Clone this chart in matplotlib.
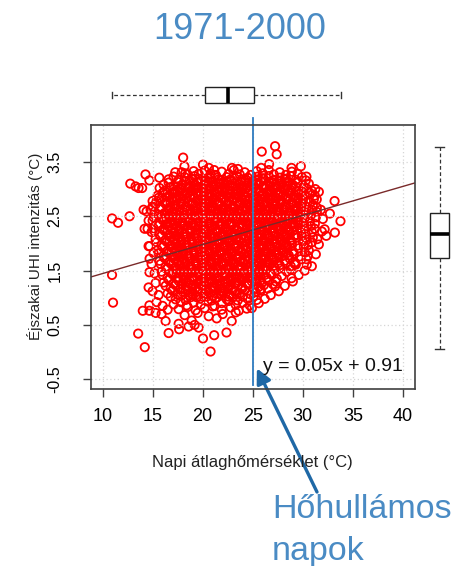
import matplotlib
matplotlib.use("Agg")
import matplotlib.pyplot as plt
import numpy as np

plt.rcParams["font.family"] = ["Liberation Sans", "DejaVu Sans"]

# daily mean temperature (degC) vs nighttime UHI intensity (degC)
days = [
    # scattered outliers
    (10.95, 2.46), (11.55, 2.38), (10.95, 1.42), (11.05, 0.91), (12.7, 2.50), (12.77, 3.10),
    (13.3, 3.05), (13.6, 3.02), (13.96, 3.02), (14.29, 3.27), (14.68, 3.16), (15.67, 3.21),
    (13.56, 0.34), (14.22, 0.09), (14.02, 0.76), (14.68, 0.76), (16.6, 0.35), (17.65, 0.42),
    (20.03, 0.25), (20.79, 0.01), (21.15, 0.31), (22.38, 0.36), (24.91, 0.81), (18.05, 3.58),
    (18.18, 3.42), (18.25, 3.29), (17.26, 3.31), (20.03, 3.45), (20.62, 3.39), (21.15, 3.35),
    (22.93, 3.39), (23.52, 3.37), (25.9, 3.69), (27.23, 3.79), (27.39, 3.64), (25.84, 3.39),
    (26.63, 3.46), (28.87, 3.39), (29.8, 3.42), (30.36, 3.23), (31.25, 3.0), (31.39, 2.81),
    (33.17, 2.78), (32.7, 2.55), (33.76, 2.41), (33.2, 2.20), (32.34, 2.14), (32.18, 2.26),
    (31.45, 2.08), (30.36, 1.71), (30.4, 1.61), (29.2, 1.62), (28.87, 1.36), (27.23, 1.21),
    (25.8, 1.16), (25.7, 1.30), (14.68, 1.47), (14.6, 1.19), (14.68, 0.86), (15.3, 0.72),
    (15.9, 0.70), (14.1, 2.62), (14.4, 2.59), (14.2, 2.27), (14.5, 2.27), (14.6, 1.95),
    (14.7, 1.72), (15.0, 2.68), (15.6, 2.84), (16.5, 2.93), (18.6, 0.47), (19.2, 0.50),
    (19.6, 0.45), (16.3, 0.57), (17.6, 0.52),
    (14.8, 2.62), (15.0, 2.78), (14.6, 2.42), (14.9, 2.21), (14.7, 1.95), (15.1, 1.82),
    (14.9, 1.62), (15.2, 1.45), (15.3, 1.27), (15.0, 1.12), (15.6, 1.05), (15.4, 0.92),
    (16.0, 0.85), (16.5, 0.78), (31.6, 2.95), (31.8, 2.62), (32.0, 2.45), (31.9, 2.22),
    (31.6, 1.98), (31.3, 1.80), (30.9, 1.58), (30.2, 1.50), (29.6, 1.42), (29.0, 1.30),
    (28.2, 1.22), (27.6, 1.12), (26.8, 1.05), (26.2, 0.98), (25.6, 0.90),
    # main cloud
    (17.9, 3.31), (18.5, 3.27), (19.1, 3.33), (19.6, 3.28), (20.2, 3.34), (20.8, 3.29), (21.3, 3.26),
    (21.9, 3.32), (22.6, 3.28), (23.1, 3.35), (23.7, 3.27), (24.2, 3.31), (24.8, 3.26), (25.4, 3.33),
    (26.0, 3.29), (26.6, 3.35), (27.1, 3.27), (27.7, 3.31), (28.3, 3.26), (28.9, 3.32), (29.5, 3.28),
    (16.6, 3.18), (17.1, 3.23), (17.6, 3.17), (18.2, 3.22), (18.7, 3.16), (19.2, 3.24), (19.7, 3.19),
    (20.3, 3.15), (20.8, 3.21), (21.3, 3.25), (21.8, 3.17), (22.4, 3.22), (22.9, 3.16), (23.4, 3.24),
    (23.9, 3.18), (24.5, 3.21), (25.0, 3.15), (25.5, 3.23), (26.1, 3.19), (26.6, 3.24), (27.1, 3.16),
    (27.7, 3.21), (28.2, 3.18), (28.8, 3.24), (29.3, 3.17), (29.9, 3.22), (30.3, 3.16),
    (16.1, 3.08), (16.6, 3.12), (17.1, 3.06), (17.5, 3.13), (18.0, 3.09), (18.6, 3.05), (19.1, 3.11),
    (19.6, 3.14), (20.1, 3.07), (20.6, 3.12), (21.1, 3.05), (21.6, 3.10), (22.1, 3.14), (22.7, 3.06),
    (23.2, 3.11), (23.7, 3.08), (24.2, 3.13), (24.8, 3.05), (25.3, 3.10), (25.8, 3.14), (26.3, 3.07),
    (26.9, 3.12), (27.4, 3.06), (27.9, 3.11), (28.5, 3.14), (29.0, 3.08), (29.5, 3.12), (30.1, 3.05),
    (30.6, 3.10),
    (15.7, 3.02), (16.2, 2.97), (16.7, 3.03), (17.2, 2.96), (17.7, 3.01), (18.3, 3.04), (18.8, 2.97),
    (19.3, 3.02), (19.8, 2.95), (20.4, 3.00), (20.9, 3.04), (21.4, 2.96), (21.9, 3.01), (22.5, 2.98),
    (23.0, 3.04), (23.5, 2.96), (24.0, 3.02), (24.6, 2.99), (25.1, 3.04), (25.6, 2.95), (26.1, 3.01),
    (26.7, 2.97), (27.2, 3.03), (27.7, 2.96), (28.3, 3.01), (28.8, 2.98), (29.3, 3.04), (29.9, 2.96),
    (30.4, 3.01), (30.9, 2.97),
    (15.5, 2.88), (16.0, 2.93), (16.5, 2.86), (17.0, 2.91), (17.5, 2.95), (18.0, 2.87), (18.5, 2.92),
    (19.1, 2.85), (19.6, 2.90), (20.1, 2.94), (20.6, 2.86), (21.2, 2.91), (21.7, 2.88), (22.2, 2.94),
    (22.7, 2.85), (23.3, 2.90), (23.8, 2.93), (24.3, 2.87), (24.9, 2.92), (25.4, 2.85), (25.9, 2.90),
    (26.4, 2.94), (27.0, 2.86), (27.5, 2.91), (28.0, 2.88), (28.6, 2.93), (29.1, 2.86), (29.6, 2.91),
    (30.2, 2.87), (30.7, 2.93), (31.2, 2.88),
    (15.4, 2.78), (15.9, 2.83), (16.4, 2.76), (16.9, 2.81), (17.4, 2.84), (17.9, 2.77), (18.4, 2.82),
    (19.0, 2.75), (19.5, 2.80), (20.0, 2.84), (20.5, 2.77), (21.0, 2.81), (21.6, 2.76), (22.1, 2.83),
    (22.6, 2.78), (23.1, 2.84), (23.7, 2.75), (24.2, 2.80), (24.7, 2.83), (25.2, 2.77), (25.8, 2.82),
    (26.3, 2.76), (26.8, 2.81), (27.3, 2.84), (27.9, 2.78), (28.4, 2.82), (28.9, 2.75), (29.5, 2.80),
    (30.0, 2.84), (30.5, 2.77), (31.1, 2.81),
    (15.3, 2.72), (15.8, 2.67), (16.3, 2.73), (16.8, 2.66), (17.3, 2.71), (17.8, 2.74), (18.3, 2.68),
    (18.9, 2.72), (19.4, 2.65), (19.9, 2.70), (20.4, 2.74), (20.9, 2.67), (21.5, 2.71), (22.0, 2.65),
    (22.5, 2.72), (23.0, 2.68), (23.6, 2.74), (24.1, 2.66), (24.6, 2.70), (25.1, 2.73), (25.7, 2.67),
    (26.2, 2.72), (26.7, 2.65), (27.2, 2.70), (27.8, 2.74), (28.3, 2.68), (28.8, 2.71), (29.4, 2.66),
    (29.9, 2.73), (30.4, 2.67), (31.0, 2.71), (31.4, 2.66),
    (15.2, 2.58), (15.7, 2.63), (16.2, 2.56), (16.7, 2.61), (17.2, 2.64), (17.7, 2.57), (18.2, 2.62),
    (18.8, 2.55), (19.3, 2.60), (19.8, 2.64), (20.3, 2.57), (20.8, 2.61), (21.4, 2.56), (21.9, 2.63),
    (22.4, 2.58), (22.9, 2.64), (23.5, 2.56), (24.0, 2.60), (24.5, 2.63), (25.0, 2.57), (25.6, 2.62),
    (26.1, 2.55), (26.6, 2.60), (27.1, 2.64), (27.7, 2.58), (28.2, 2.62), (28.7, 2.55), (29.3, 2.61),
    (29.8, 2.64), (30.3, 2.57), (30.9, 2.62), (31.4, 2.58),
    (15.1, 2.48), (15.6, 2.53), (16.1, 2.46), (16.6, 2.51), (17.1, 2.54), (17.6, 2.47), (18.1, 2.52),
    (18.7, 2.45), (19.2, 2.50), (19.7, 2.54), (20.2, 2.47), (20.7, 2.51), (21.3, 2.46), (21.8, 2.53),
    (22.3, 2.48), (22.8, 2.54), (23.4, 2.46), (23.9, 2.50), (24.4, 2.53), (24.9, 2.47), (25.5, 2.52),
    (26.0, 2.45), (26.5, 2.50), (27.0, 2.54), (27.6, 2.48), (28.1, 2.52), (28.6, 2.45), (29.2, 2.51),
    (29.7, 2.54), (30.2, 2.47), (30.8, 2.52), (31.3, 2.48),
    (15.0, 2.42), (15.5, 2.37), (16.0, 2.43), (16.5, 2.36), (17.0, 2.41), (17.5, 2.44), (18.0, 2.38),
    (18.6, 2.42), (19.1, 2.35), (19.6, 2.40), (20.1, 2.44), (20.6, 2.37), (21.2, 2.41), (21.7, 2.35),
    (22.2, 2.42), (22.7, 2.38), (23.3, 2.44), (23.8, 2.36), (24.3, 2.40), (24.8, 2.43), (25.4, 2.37),
    (25.9, 2.42), (26.4, 2.35), (26.9, 2.40), (27.5, 2.44), (28.0, 2.38), (28.5, 2.41), (29.1, 2.36),
    (29.6, 2.43), (30.1, 2.37), (30.7, 2.41), (31.2, 2.36),
    (15.1, 2.28), (15.6, 2.33), (16.1, 2.26), (16.6, 2.31), (17.1, 2.34), (17.6, 2.27), (18.1, 2.32),
    (18.7, 2.25), (19.2, 2.30), (19.7, 2.34), (20.2, 2.27), (20.7, 2.31), (21.3, 2.26), (21.8, 2.33),
    (22.3, 2.28), (22.8, 2.34), (23.4, 2.26), (23.9, 2.30), (24.4, 2.33), (24.9, 2.27), (25.5, 2.32),
    (26.0, 2.25), (26.5, 2.30), (27.0, 2.34), (27.6, 2.28), (28.1, 2.32), (28.6, 2.25), (29.2, 2.31),
    (29.7, 2.34), (30.2, 2.27), (30.8, 2.32), (31.2, 2.27),
    (15.2, 2.22), (15.7, 2.17), (16.2, 2.23), (16.7, 2.16), (17.2, 2.21), (17.7, 2.24), (18.2, 2.18),
    (18.8, 2.22), (19.3, 2.15), (19.8, 2.20), (20.3, 2.24), (20.8, 2.17), (21.4, 2.21), (21.9, 2.15),
    (22.4, 2.22), (22.9, 2.18), (23.5, 2.24), (24.0, 2.16), (24.5, 2.20), (25.0, 2.23), (25.6, 2.17),
    (26.1, 2.22), (26.6, 2.15), (27.1, 2.20), (27.7, 2.24), (28.2, 2.18), (28.7, 2.21), (29.3, 2.16),
    (29.8, 2.23), (30.3, 2.17), (30.9, 2.21),
    (15.3, 2.08), (15.8, 2.13), (16.3, 2.06), (16.8, 2.11), (17.3, 2.14), (17.8, 2.07), (18.3, 2.12),
    (18.9, 2.05), (19.4, 2.10), (19.9, 2.14), (20.4, 2.07), (20.9, 2.11), (21.5, 2.06), (22.0, 2.13),
    (22.5, 2.08), (23.0, 2.14), (23.6, 2.06), (24.1, 2.10), (24.6, 2.13), (25.1, 2.07), (25.7, 2.12),
    (26.2, 2.05), (26.7, 2.10), (27.2, 2.14), (27.8, 2.08), (28.3, 2.12), (28.8, 2.05), (29.4, 2.11),
    (29.9, 2.14), (30.4, 2.07), (31.0, 2.11),
    (15.4, 2.02), (15.9, 1.97), (16.4, 2.03), (16.9, 1.96), (17.4, 2.01), (17.9, 2.04), (18.4, 1.98),
    (19.0, 2.02), (19.5, 1.95), (20.0, 2.00), (20.5, 2.04), (21.0, 1.97), (21.6, 2.01), (22.1, 1.95),
    (22.6, 2.02), (23.1, 1.98), (23.7, 2.04), (24.2, 1.96), (24.7, 2.00), (25.2, 2.03), (25.8, 1.97),
    (26.3, 2.02), (26.8, 1.95), (27.3, 2.00), (27.9, 2.04), (28.4, 1.98), (28.9, 2.01), (29.5, 1.96),
    (30.0, 2.03), (30.5, 1.97), (30.9, 2.02),
    (15.5, 1.88), (16.0, 1.93), (16.5, 1.86), (17.0, 1.91), (17.5, 1.94), (18.0, 1.87), (18.5, 1.92),
    (19.1, 1.85), (19.6, 1.90), (20.1, 1.94), (20.6, 1.87), (21.1, 1.91), (21.7, 1.86), (22.2, 1.93),
    (22.7, 1.88), (23.2, 1.94), (23.8, 1.86), (24.3, 1.90), (24.8, 1.93), (25.3, 1.87), (25.9, 1.92),
    (26.4, 1.85), (26.9, 1.90), (27.4, 1.94), (28.0, 1.88), (28.5, 1.92), (29.0, 1.85), (29.6, 1.91),
    (30.1, 1.94), (30.6, 1.87),
    (15.6, 1.82), (16.1, 1.77), (16.6, 1.83), (17.1, 1.76), (17.6, 1.81), (18.1, 1.84), (18.6, 1.78),
    (19.2, 1.82), (19.7, 1.75), (20.2, 1.80), (20.7, 1.84), (21.2, 1.77), (21.8, 1.81), (22.3, 1.75),
    (22.8, 1.82), (23.3, 1.78), (23.9, 1.84), (24.4, 1.76), (24.9, 1.80), (25.4, 1.83), (26.0, 1.77),
    (26.5, 1.82), (27.0, 1.75), (27.5, 1.80), (28.1, 1.84), (28.6, 1.78), (29.1, 1.81), (29.7, 1.76),
    (30.2, 1.83), (30.5, 1.77),
    (15.7, 1.68), (16.2, 1.73), (16.7, 1.66), (17.2, 1.71), (17.7, 1.74), (18.2, 1.67), (18.7, 1.72),
    (19.3, 1.65), (19.8, 1.70), (20.3, 1.74), (20.8, 1.67), (21.3, 1.71), (21.9, 1.66), (22.4, 1.73),
    (22.9, 1.68), (23.4, 1.74), (24.0, 1.66), (24.5, 1.70), (25.0, 1.73), (25.5, 1.67), (26.1, 1.72),
    (26.6, 1.65), (27.1, 1.70), (27.6, 1.74), (28.2, 1.68), (28.7, 1.72), (29.2, 1.65), (29.8, 1.71),
    (15.8, 1.62), (16.3, 1.57), (16.8, 1.63), (17.3, 1.56), (17.8, 1.61), (18.3, 1.64), (18.8, 1.58),
    (19.4, 1.62), (19.9, 1.55), (20.4, 1.60), (20.9, 1.64), (21.4, 1.57), (22.0, 1.61), (22.5, 1.55),
    (23.0, 1.62), (23.5, 1.58), (24.1, 1.64), (24.6, 1.56), (25.1, 1.60), (25.6, 1.63), (26.2, 1.57),
    (26.7, 1.62), (27.2, 1.55), (27.7, 1.60), (28.3, 1.64), (28.8, 1.58), (29.3, 1.61),
    (15.9, 1.48), (16.4, 1.53), (16.9, 1.46), (17.4, 1.51), (17.9, 1.54), (18.4, 1.47), (18.9, 1.52),
    (19.5, 1.45), (20.0, 1.50), (20.5, 1.54), (21.0, 1.47), (21.5, 1.51), (22.1, 1.46), (22.6, 1.53),
    (23.1, 1.48), (23.6, 1.54), (24.2, 1.46), (24.7, 1.50), (25.2, 1.53), (25.7, 1.47), (26.3, 1.52),
    (26.8, 1.45), (27.3, 1.50), (27.8, 1.54), (28.4, 1.48), (28.8, 1.52),
    (16.0, 1.42), (16.5, 1.37), (17.0, 1.43), (17.5, 1.36), (18.0, 1.41), (18.5, 1.44), (19.0, 1.38),
    (19.6, 1.42), (20.1, 1.35), (20.6, 1.40), (21.1, 1.44), (21.6, 1.37), (22.2, 1.41), (22.7, 1.35),
    (23.2, 1.42), (23.7, 1.38), (24.3, 1.44), (24.8, 1.36), (25.3, 1.40), (25.8, 1.43), (26.4, 1.37),
    (26.9, 1.42), (27.4, 1.35), (27.9, 1.40),
    (16.1, 1.28), (16.6, 1.33), (17.1, 1.26), (17.6, 1.31), (18.1, 1.34), (18.6, 1.27), (19.1, 1.32),
    (19.7, 1.25), (20.2, 1.30), (20.7, 1.34), (21.2, 1.27), (21.7, 1.31), (22.3, 1.26), (22.8, 1.33),
    (23.3, 1.28), (23.8, 1.34), (24.4, 1.26), (24.9, 1.30), (25.4, 1.33), (25.9, 1.27), (26.5, 1.32),
    (27.0, 1.25), (27.3, 1.30),
    (16.3, 1.22), (16.8, 1.17), (17.3, 1.23), (17.8, 1.16), (18.3, 1.21), (18.8, 1.24), (19.3, 1.18),
    (19.9, 1.22), (20.4, 1.15), (20.9, 1.20), (21.4, 1.24), (21.9, 1.17), (22.5, 1.21), (23.0, 1.15),
    (23.5, 1.22), (24.0, 1.18), (24.6, 1.24), (25.1, 1.16), (25.6, 1.20), (26.1, 1.23), (26.5, 1.17),
    (16.5, 1.08), (17.0, 1.13), (17.5, 1.06), (18.0, 1.11), (18.5, 1.14), (19.0, 1.07), (19.5, 1.12),
    (20.1, 1.05), (20.6, 1.10), (21.1, 1.14), (21.6, 1.07), (22.1, 1.11), (22.7, 1.06), (23.2, 1.13),
    (23.7, 1.08), (24.2, 1.14), (24.8, 1.06), (25.3, 1.10), (25.8, 1.13),
    (16.8, 1.02), (17.3, 0.97), (17.8, 1.03), (18.3, 0.96), (18.8, 1.01), (19.3, 1.04), (19.8, 0.98),
    (20.4, 1.02), (20.9, 0.95), (21.4, 1.00), (21.9, 1.04), (22.4, 0.97), (23.0, 1.01), (23.5, 0.95),
    (24.0, 1.02), (24.5, 0.98), (25.1, 1.03), (25.4, 0.96),
    (17.1, 0.88), (17.8, 0.92), (18.4, 0.86), (19.1, 0.91), (19.8, 0.87), (20.5, 0.93), (21.2, 0.85),
    (21.9, 0.90), (22.6, 0.94), (23.3, 0.87), (24.0, 0.91), (24.7, 0.86),
    (17.6, 0.79), (18.5, 0.83), (19.3, 0.77), (20.2, 0.81), (21.0, 0.84), (21.9, 0.78), (22.8, 0.82),
    (23.6, 0.76), (24.4, 0.80), (18.2, 0.68), (19.5, 0.72), (20.6, 0.66), (22.0, 0.70), (23.3, 0.73),
    (18.9, 0.58), (21.4, 0.62), (22.9, 0.57),
    # denser middle of the cloud
    (18.3, 3.15), (18.9, 3.19), (19.4, 3.13), (19.9, 3.17), (20.5, 3.20), (21.0, 3.14), (21.6, 3.18),
    (22.1, 3.12), (22.7, 3.17), (23.2, 3.20), (23.8, 3.14), (24.3, 3.18), (24.9, 3.12), (25.5, 3.16),
    (26.0, 3.20), (26.6, 3.13), (27.1, 3.17), (27.7, 3.14), (28.3, 3.19),
    (17.5, 3.05), (18.0, 3.08), (18.6, 3.02), (19.1, 3.07), (19.6, 3.03), (20.2, 3.09), (20.7, 3.01),
    (21.3, 3.06), (21.8, 3.09), (22.3, 3.03), (22.9, 3.07), (23.4, 3.01), (24.0, 3.06), (24.5, 3.10),
    (25.1, 3.03), (25.6, 3.08), (26.2, 3.02), (26.7, 3.06), (27.3, 3.09), (27.8, 3.03), (28.4, 3.07),
    (28.9, 3.02),
    (17.2, 2.95), (17.8, 2.99), (18.3, 2.92), (18.9, 2.97), (19.4, 2.93), (20.0, 2.99), (20.5, 2.91),
    (21.1, 2.96), (21.6, 2.99), (22.1, 2.93), (22.7, 2.97), (23.2, 2.91), (23.8, 2.96), (24.3, 3.00),
    (24.9, 2.93), (25.4, 2.98), (26.0, 2.92), (26.5, 2.96), (27.1, 2.99), (27.6, 2.93), (28.2, 2.97),
    (28.7, 2.92), (29.3, 2.96),
    (17.0, 2.85), (17.6, 2.89), (18.1, 2.82), (18.7, 2.87), (19.2, 2.83), (19.8, 2.89), (20.3, 2.81),
    (20.9, 2.86), (21.4, 2.89), (21.9, 2.83), (22.5, 2.87), (23.0, 2.81), (23.6, 2.86), (24.1, 2.90),
    (24.7, 2.83), (25.2, 2.88), (25.8, 2.82), (26.3, 2.86), (26.9, 2.89), (27.4, 2.83), (28.0, 2.87),
    (28.5, 2.82), (29.1, 2.86), (29.6, 2.84),
    (16.8, 2.75), (17.4, 2.79), (17.9, 2.72), (18.5, 2.77), (19.0, 2.73), (19.6, 2.79), (20.1, 2.71),
    (20.7, 2.76), (21.2, 2.79), (21.7, 2.73), (22.3, 2.77), (22.8, 2.71), (23.4, 2.76), (23.9, 2.80),
    (24.5, 2.73), (25.0, 2.78), (25.6, 2.72), (26.1, 2.76), (26.7, 2.79), (27.2, 2.73), (27.8, 2.77),
    (28.3, 2.72), (28.9, 2.76), (29.4, 2.74), (30.0, 2.78),
    (16.6, 2.65), (17.2, 2.69), (17.7, 2.62), (18.3, 2.67), (18.8, 2.63), (19.4, 2.69), (19.9, 2.61),
    (20.5, 2.66), (21.0, 2.69), (21.5, 2.63), (22.1, 2.67), (22.6, 2.61), (23.2, 2.66), (23.7, 2.70),
    (24.3, 2.63), (24.8, 2.68), (25.4, 2.62), (25.9, 2.66), (26.5, 2.69), (27.0, 2.63), (27.6, 2.67),
    (28.1, 2.62), (28.7, 2.66), (29.2, 2.64), (29.8, 2.68),
    (16.5, 2.55), (17.0, 2.59), (17.6, 2.52), (18.1, 2.57), (18.7, 2.53), (19.2, 2.59), (19.8, 2.51),
    (20.3, 2.56), (20.9, 2.59), (21.4, 2.53), (22.0, 2.57), (22.5, 2.51), (23.1, 2.56), (23.6, 2.60),
    (24.2, 2.53), (24.7, 2.58), (25.3, 2.52), (25.8, 2.56), (26.4, 2.59), (26.9, 2.53), (27.5, 2.57),
    (28.0, 2.52), (28.6, 2.56), (29.1, 2.54), (29.7, 2.58),
    (16.4, 2.45), (16.9, 2.49), (17.5, 2.42), (18.0, 2.47), (18.6, 2.43), (19.1, 2.49), (19.7, 2.41),
    (20.2, 2.46), (20.8, 2.49), (21.3, 2.43), (21.9, 2.47), (22.4, 2.41), (23.0, 2.46), (23.5, 2.50),
    (24.1, 2.43), (24.6, 2.48), (25.2, 2.42), (25.7, 2.46), (26.3, 2.49), (26.8, 2.43), (27.4, 2.47),
    (27.9, 2.42), (28.5, 2.46), (29.0, 2.44), (29.6, 2.48),
    (16.3, 2.35), (16.8, 2.38), (17.4, 2.32), (17.9, 2.37), (18.5, 2.33), (19.0, 2.39), (19.6, 2.31),
    (20.1, 2.36), (20.7, 2.39), (21.2, 2.33), (21.8, 2.37), (22.3, 2.31), (22.9, 2.36), (23.4, 2.40),
    (24.0, 2.33), (24.5, 2.38), (25.1, 2.32), (25.6, 2.36), (26.2, 2.39), (26.7, 2.33), (27.3, 2.37),
    (27.8, 2.32), (28.4, 2.36), (28.9, 2.34), (29.5, 2.38),
    (16.5, 2.25), (17.0, 2.29), (17.6, 2.22), (18.1, 2.27), (18.7, 2.23), (19.2, 2.29), (19.8, 2.21),
    (20.3, 2.26), (20.9, 2.29), (21.4, 2.23), (22.0, 2.27), (22.5, 2.21), (23.1, 2.26), (23.6, 2.30),
    (24.2, 2.23), (24.7, 2.28), (25.3, 2.22), (25.8, 2.26), (26.4, 2.29), (26.9, 2.23), (27.5, 2.27),
    (28.0, 2.22), (28.6, 2.26), (29.1, 2.24), (29.7, 2.28),
    (16.6, 2.15), (17.1, 2.19), (17.7, 2.12), (18.2, 2.17), (18.8, 2.13), (19.3, 2.19), (19.9, 2.11),
    (20.4, 2.16), (21.0, 2.19), (21.5, 2.13), (22.1, 2.17), (22.6, 2.11), (23.2, 2.16), (23.7, 2.20),
    (24.3, 2.13), (24.8, 2.18), (25.4, 2.12), (25.9, 2.16), (26.5, 2.19), (27.0, 2.13), (27.6, 2.17),
    (28.1, 2.12), (28.7, 2.16), (29.2, 2.14),
    (16.7, 2.05), (17.2, 2.09), (17.8, 2.02), (18.3, 2.07), (18.9, 2.03), (19.4, 2.09), (20.0, 2.01),
    (20.5, 2.06), (21.1, 2.09), (21.6, 2.03), (22.2, 2.07), (22.7, 2.01), (23.3, 2.06), (23.8, 2.10),
    (24.4, 2.03), (24.9, 2.08), (25.5, 2.02), (26.0, 2.06), (26.6, 2.09), (27.1, 2.03), (27.7, 2.07),
    (28.2, 2.02), (28.8, 2.06),
    (16.8, 1.95), (17.3, 1.99), (17.9, 1.92), (18.4, 1.97), (19.0, 1.93), (19.5, 1.99), (20.1, 1.91),
    (20.6, 1.96), (21.2, 1.99), (21.7, 1.93), (22.3, 1.97), (22.8, 1.91), (23.4, 1.96), (23.9, 2.00),
    (24.5, 1.93), (25.0, 1.98), (25.6, 1.92), (26.1, 1.96), (26.7, 1.99), (27.2, 1.93), (27.8, 1.97),
    (28.3, 1.92), (28.9, 1.96),
    (16.9, 1.85), (17.4, 1.89), (18.0, 1.82), (18.5, 1.87), (19.1, 1.83), (19.6, 1.89), (20.2, 1.81),
    (20.7, 1.86), (21.3, 1.89), (21.8, 1.83), (22.4, 1.87), (22.9, 1.81), (23.5, 1.86), (24.0, 1.90),
    (24.6, 1.83), (25.1, 1.88), (25.7, 1.82), (26.2, 1.86), (26.8, 1.89), (27.3, 1.83), (27.9, 1.87),
    (28.4, 1.82),
    (17.0, 1.75), (17.5, 1.79), (18.1, 1.72), (18.6, 1.77), (19.2, 1.73), (19.7, 1.79), (20.3, 1.71),
    (20.8, 1.76), (21.4, 1.79), (21.9, 1.73), (22.5, 1.77), (23.0, 1.71), (23.6, 1.76), (24.1, 1.80),
    (24.7, 1.73), (25.2, 1.78), (25.8, 1.72), (26.3, 1.76), (26.9, 1.79), (27.4, 1.73), (28.0, 1.77),
    (17.1, 1.65), (17.6, 1.69), (18.2, 1.62), (18.7, 1.67), (19.3, 1.63), (19.8, 1.69), (20.4, 1.61),
    (20.9, 1.66), (21.5, 1.69), (22.0, 1.63), (22.6, 1.67), (23.1, 1.61), (23.7, 1.66), (24.2, 1.70),
    (24.8, 1.63), (25.3, 1.68), (25.9, 1.62), (26.4, 1.66), (27.0, 1.69), (27.5, 1.63),
    (17.2, 1.55), (17.7, 1.59), (18.3, 1.52), (18.8, 1.57), (19.4, 1.53), (19.9, 1.59), (20.5, 1.51),
    (21.0, 1.56), (21.6, 1.59), (22.1, 1.53), (22.7, 1.57), (23.2, 1.51), (23.8, 1.56), (24.3, 1.60),
    (24.9, 1.53), (25.4, 1.58), (26.0, 1.52), (26.5, 1.56), (27.1, 1.59),
    (17.4, 1.45), (17.9, 1.49), (18.5, 1.42), (19.0, 1.47), (19.6, 1.43), (20.1, 1.49), (20.7, 1.41),
    (21.2, 1.46), (21.8, 1.49), (22.3, 1.43), (22.9, 1.47), (23.4, 1.41), (24.0, 1.46), (24.5, 1.50),
    (25.1, 1.43), (25.6, 1.48), (26.2, 1.42),
    (17.6, 1.35), (18.1, 1.39), (18.7, 1.32), (19.2, 1.37), (19.8, 1.33), (20.3, 1.39), (20.9, 1.31),
    (21.4, 1.36), (22.0, 1.39), (22.5, 1.33), (23.1, 1.37), (23.6, 1.31), (24.2, 1.36), (24.7, 1.40),
    (25.3, 1.33),
    (17.9, 1.25), (18.4, 1.29), (19.0, 1.22), (19.5, 1.27), (20.1, 1.23), (20.6, 1.29), (21.2, 1.21),
    (21.7, 1.26), (22.3, 1.29), (22.8, 1.23), (23.4, 1.27), (23.9, 1.21), (24.5, 1.26),
    (18.3, 1.15), (19.0, 1.11), (19.7, 1.17), (20.4, 1.13), (21.1, 1.18), (21.8, 1.12), (22.5, 1.16),
    (23.2, 1.11), (23.9, 1.17), (18.6, 1.05), (19.4, 1.01), (20.2, 1.07), (21.0, 1.03), (21.8, 1.08),
    (22.6, 1.02), (23.4, 1.06),
]
temp = np.array([d[0] for d in days])
uhi = np.array([d[1] for d in days])

# boxplot five-number summaries (whisker low, Q1, median, Q3, whisker high)
temp_box = [10.9, 20.2, 22.5, 25.1, 33.8]
uhi_box = [0.06, 1.73, 2.17, 2.56, 3.78]

# linear fit shown on the plot
fit_slope = 0.0535
fit_intercept = 0.91
fit_label = "y = 0.05x + 0.91"

heatwave_temp = 25
x_ticks = [10, 15, 20, 25, 30, 35, 40]
y_ticks = [-0.5, 0.5, 1.5, 2.5, 3.5]

title = "1971-2000"
x_label = "Napi átlaghőmérséklet (°C)"
y_label = "Éjszakai UHI intenzitás (°C)"
note_lines = ["Hőhullámos", "napok"]

W, H = 454, 566
LIGHT_BLUE = "#4a8bc4"
LINE_BLUE = "#2e7bbf"
ARROW_BLUE = "#1f68a6"
SPINE = "#404040"


def fx(px):
    return px / W


def fy(py):
    return 1 - py / H


def box_stats(s):
    return [dict(whislo=s[0], q1=s[1], med=s[2], q3=s[3], whishi=s[4], fliers=[])]


fig = plt.figure(figsize=(W / 100, H / 100), dpi=100)
fig.patch.set_facecolor("white")

ax = fig.add_axes([fx(90.5), fy(389), fx(415) - fx(90.5), fy(125) - fy(389)])
ax.set_xlim(8.8, 41.2)
ax.set_ylim(-0.68, 4.18)

ax.scatter(temp, uhi, s=36, facecolors="none", edgecolors="#ff0000", linewidths=1.3, zorder=2)

# grid is drawn after the points, as in the original
ax.grid(True, color="#d6d6d6", linestyle=(0, (1, 2)), linewidth=0.9, zorder=2.5)
ax.set_axisbelow(False)

xs = np.array(ax.get_xlim())
ax.plot(xs, fit_intercept + fit_slope * xs, color="#7a2a2a", lw=1.0, zorder=3)

ax.plot([heatwave_temp, heatwave_temp], [-0.61, 4.31], color=LINE_BLUE, lw=1.3,
        clip_on=False, zorder=4)

ax.text(33.0, -0.27, fit_label, ha="center", va="center", fontsize=14, color="#111111", zorder=5)

ax.set_xticks(x_ticks)
ax.set_xticklabels([str(t) for t in x_ticks], fontsize=13)
ax.set_yticks(y_ticks)
ax.set_yticklabels([f"{t:.1f}" for t in y_ticks], fontsize=11.5, rotation=90, va="center")
ax.tick_params(axis="x", length=6, width=1, color=SPINE, pad=8)
ax.tick_params(axis="y", length=6, width=1, color=SPINE, pad=14)
for sp in ax.spines.values():
    sp.set_color(SPINE)
    sp.set_linewidth(1.2)
    sp.set_zorder(6)

# marginal boxplots
bprops = dict(
    patch_artist=True, showfliers=False,
    boxprops=dict(facecolor="white", edgecolor="#222222", linewidth=1.0),
    medianprops=dict(color="black", linewidth=2.6),
    whiskerprops=dict(color="#333333", linewidth=0.9, linestyle=(0, (3, 2))),
    capprops=dict(color="#333333", linewidth=1.0),
)
axt = fig.add_axes([fx(90.5), fy(112), fx(415) - fx(90.5), fy(78) - fy(112)])
axt.bxp(box_stats(temp_box), positions=[0], widths=0.94, capwidths=0.41, vert=False, **bprops)
axt.set_xlim(ax.get_xlim())
axt.set_ylim(-1, 1)
axt.axis("off")

axr = fig.add_axes([fx(425), fy(389), fx(454) - fx(425), fy(125) - fy(389)])
axr.bxp(box_stats(uhi_box), positions=[0], widths=1.31, capwidths=0.62, vert=True, **bprops)
axr.set_ylim(ax.get_ylim())
axr.set_xlim(-1, 1)
axr.axis("off")

# texts
fig.text(fx(240), fy(39), title, ha="center", va="baseline", fontsize=26, color=LIGHT_BLUE)
fig.text(fx(252.7), fy(462), x_label, ha="center", va="center", fontsize=12, color="#222222")
fig.text(fx(35), fy(246), y_label, ha="center", va="center", rotation=90, fontsize=11,
         color="#222222")
fig.text(fx(272), fy(518), note_lines[0], ha="left", va="baseline", fontsize=24.5, color=LIGHT_BLUE)
fig.text(fx(272), fy(560), note_lines[1], ha="left", va="baseline", fontsize=24.5, color=LIGHT_BLUE)

ax.annotate("", xy=(25.41, -0.30), xycoords="data",
            xytext=(fx(317), fy(492)), textcoords="figure fraction",
            arrowprops=dict(arrowstyle="-|>", color=ARROW_BLUE, lw=2.4,
                            mutation_scale=22, shrinkA=0, shrinkB=0),
            annotation_clip=False)

fig.savefig("out.png", dpi=100, facecolor="white")
